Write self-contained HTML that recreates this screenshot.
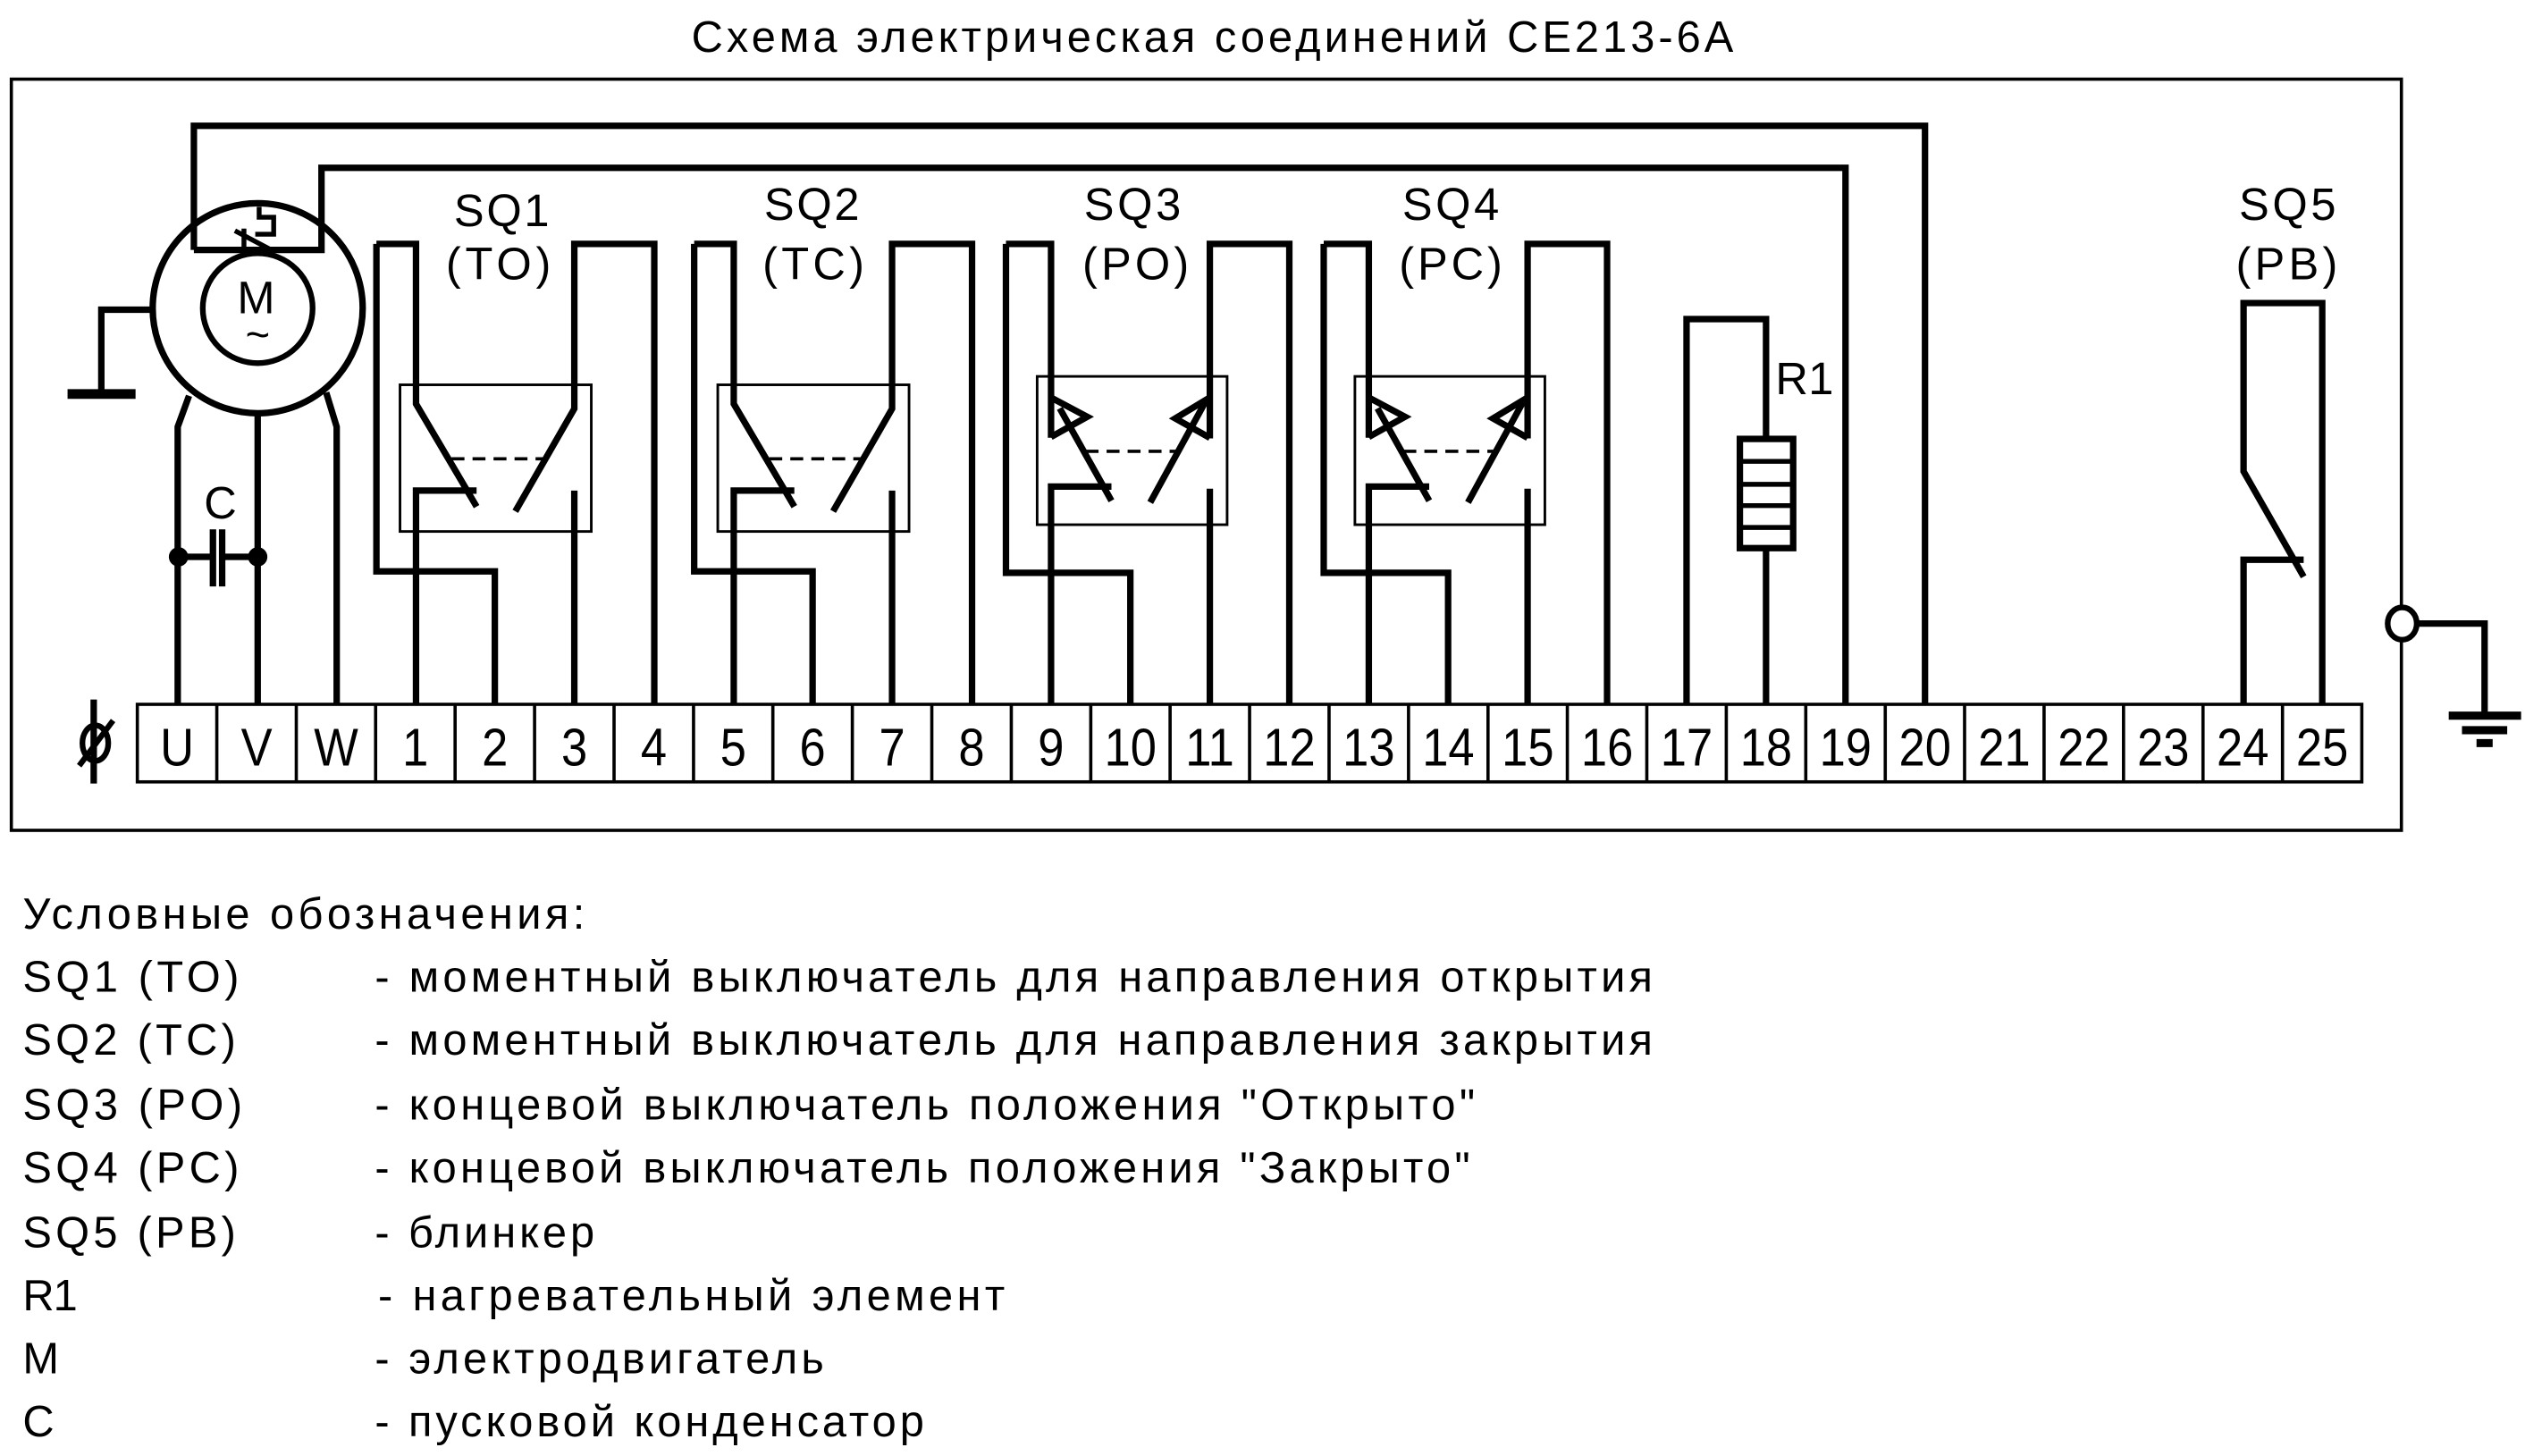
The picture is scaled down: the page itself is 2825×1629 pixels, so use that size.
<!DOCTYPE html>
<html><head><meta charset="utf-8"><style>
html,body{margin:0;padding:0;background:#fff;}
svg{display:block;}
text{font-family:"Liberation Sans",Arial,sans-serif;fill:#000;}
</style></head><body>
<svg width="2825" height="1629" viewBox="0 0 1563 901.3" xmlns="http://www.w3.org/2000/svg">
<rect width="1563" height="901.3" fill="#fff"/>
<text x="428" y="32" font-size="27" textLength="645" lengthAdjust="spacing">Схема электрическая соединений СЕ213-6А</text>
<rect x="7" y="49" width="1479.5" height="465" fill="none" stroke="#000" stroke-width="2"/>
<g fill="none" stroke="#000" stroke-width="4" stroke-linejoin="miter" stroke-linecap="butt">
<path d="M120,154.7 V77.9 H1191.6 V436"/>
<path d="M120,154.7 H199 V103.9 H1142.4 V436"/>
<circle cx="159.5" cy="190.8" r="65"/>
<circle cx="159.5" cy="190.8" r="34" stroke-width="3.5"/>
<path d="M160.4,128 V134.5 H169.4 V145 H158" stroke-width="3"/>
<path d="M151,141.5 V154.7 M145.4,142.8 L169.4,155.5" stroke-width="3"/>
<path d="M94.5,191.7 H62.7 V243.9"/>
<path d="M41.8,243.9 H83.9" stroke-width="6"/>
<path d="M117,245 L110,264.2 V436"/>
<path d="M159.5,256 V436"/>
<path d="M201.9,243 L208.4,264.2 V436"/>
<path d="M110,344.7 H131.8 M137.5,344.7 H159.5"/>
<path d="M131.8,327.7 V363 M137.5,327.7 V363"/>
</g>
<circle cx="110.5" cy="344.7" r="6" fill="#000"/>
<circle cx="159.5" cy="344.7" r="6" fill="#000"/>
<text x="158.5" y="194" font-size="28" text-anchor="middle">M</text>
<text x="159.5" y="216" font-size="26" text-anchor="middle">~</text>
<text x="136.4" y="321" font-size="28" text-anchor="middle">C</text>

<defs>
<g id="sqT">
<g fill="none" stroke="#000" stroke-width="4">
<path d="M233,151 V353.7 H306.3 V436"/>
<path d="M233,151 H257.5 V250 L295,313.6"/>
<path d="M257.5,436 V303.7 H295"/>
<path d="M355.5,436 V303.7"/>
<path d="M405,436 V151 H355.5 V253 L319,316.5"/>
</g>
<rect x="247.6" y="238.2" width="118.4" height="90.8" fill="none" stroke="#000" stroke-width="1.6"/>
<path d="M279.5,284 H336" stroke="#000" stroke-width="2" stroke-dasharray="8,5"/>
</g>
<g id="sqP">
<g fill="none" stroke="#000" stroke-width="4">
<path d="M622.7,151 V354.6 H699.7 V436"/>
<path d="M622.7,151 H650.6 V271"/>
<path d="M651.5,246.6 L673,258 L650.6,270.5"/>
<path d="M688,310 L656,252.8"/>
<path d="M650.6,436 V301.2 H688"/>
<path d="M798.1,436 V151 H748.9 V271.4"/>
<path d="M748,246.6 L727.5,259 L748.9,271"/>
<path d="M712,311 L746,249"/>
<path d="M748.9,436 V302.5"/>
</g>
<rect x="642" y="233" width="117.6" height="91.8" fill="none" stroke="#000" stroke-width="1.6"/>
<path d="M672,279.4 H729" stroke="#000" stroke-width="2" stroke-dasharray="8,5"/>
</g>
</defs>
<use href="#sqT"/>
<use href="#sqT" transform="translate(196.7,0)"/>
<use href="#sqP"/>
<use href="#sqP" transform="translate(196.7,0)"/>
<g font-size="28" text-anchor="start">
<text x="281" y="140" textLength="59" lengthAdjust="spacing">SQ1</text>
<text x="276" y="173" textLength="65" lengthAdjust="spacing">(TO)</text>
<text x="473" y="136" textLength="59" lengthAdjust="spacing">SQ2</text>
<text x="472" y="173" textLength="63" lengthAdjust="spacing">(TC)</text>
<text x="671" y="136" textLength="60" lengthAdjust="spacing">SQ3</text>
<text x="670" y="173" textLength="66" lengthAdjust="spacing">(PO)</text>
<text x="868" y="136" textLength="60" lengthAdjust="spacing">SQ4</text>
<text x="866" y="173" textLength="64" lengthAdjust="spacing">(PC)</text>
<text x="1386" y="136" textLength="60" lengthAdjust="spacing">SQ5</text>
<text x="1384" y="173" textLength="63" lengthAdjust="spacing">(PB)</text>
<text x="1099" y="244" textLength="36" lengthAdjust="spacing">R1</text>
</g>

<g fill="none" stroke="#000" stroke-width="4">
<path d="M1044,436 V197.5 H1093.2 V271.7"/>
<path d="M1093.2,339.3 V436"/>
<rect x="1077" y="271.7" width="33" height="67.6"/>
<path d="M1077,285.6 H1110 M1077,299.8 H1110 M1077,313 H1110 M1077,326.5 H1110" stroke-width="3"/>
<path d="M1437.5,436 V187.6 H1388.8 V291.8 L1426,357"/>
<path d="M1388.8,436 V346.5 H1426"/>
<path d="M1496,386 H1538 V441"/>
<path d="M1515.8,443 H1560.6" stroke-width="5"/>
<path d="M1524,452 H1552" stroke-width="5"/>
<path d="M1533,460 H1543" stroke-width="5"/>
</g>
<ellipse cx="1487" cy="386" rx="9" ry="10" fill="#fff" stroke="#000" stroke-width="3.5"/>

<g fill="none" stroke="#000" stroke-width="2">
<rect x="85" y="436" width="1377" height="48"/>
<path d="M134.2,436V484 M183.4,436V484 M232.5,436V484 M281.7,436V484 M330.9,436V484 M380.1,436V484 M429.3,436V484 M478.4,436V484 M527.6,436V484 M576.8,436V484 M626,436V484 M675.2,436V484 M724.3,436V484 M773.5,436V484 M822.7,436V484 M871.9,436V484 M921.1,436V484 M970.2,436V484 M1019.4,436V484 M1068.6,436V484 M1117.8,436V484 M1167,436V484 M1216.1,436V484 M1265.3,436V484 M1314.5,436V484 M1363.7,436V484 M1412.9,436V484"/>
</g>
<g font-size="33" text-anchor="middle" transform="scale(0.88,1)">
<text x="124.5" y="474">U</text><text x="180.5" y="474">V</text><text x="236.4" y="474">W</text>
<text x="292.2" y="474">1</text><text x="348.1" y="474">2</text><text x="404" y="474">3</text><text x="459.9" y="474">4</text>
<text x="515.8" y="474">5</text><text x="571.6" y="474">6</text><text x="627.5" y="474">7</text><text x="683.4" y="474">8</text>
<text x="739.3" y="474">9</text><text x="795.2" y="474">10</text><text x="851" y="474">11</text><text x="906.9" y="474">12</text>
<text x="962.8" y="474">13</text><text x="1018.8" y="474">14</text><text x="1074.7" y="474">15</text><text x="1130.5" y="474">16</text>
<text x="1186.4" y="474">17</text><text x="1242.3" y="474">18</text><text x="1298.2" y="474">19</text><text x="1354.1" y="474">20</text>
<text x="1409.9" y="474">21</text><text x="1465.8" y="474">22</text><text x="1521.7" y="474">23</text><text x="1577.6" y="474">24</text>
<text x="1633.5" y="474">25</text>
</g>
<g fill="none" stroke="#000" stroke-width="4">
<path d="M58,433 V485"/>
<ellipse cx="59" cy="460" rx="8" ry="11" stroke-width="3.5"/>
<path d="M49,474 L70,446" stroke-width="3.5"/>
</g>

<g font-size="27">
<text x="14" y="575" textLength="348" lengthAdjust="spacing">Условные обозначения:</text>
<text x="14" y="614" textLength="134" lengthAdjust="spacing">SQ1 (TO)</text>
<text x="14" y="653" textLength="132" lengthAdjust="spacing">SQ2 (TC)</text>
<text x="14" y="693" textLength="136" lengthAdjust="spacing">SQ3 (PO)</text>
<text x="14" y="732" textLength="134" lengthAdjust="spacing">SQ4 (PC)</text>
<text x="14" y="772" textLength="132" lengthAdjust="spacing">SQ5 (PB)</text>
<text x="14" y="811" textLength="34" lengthAdjust="spacing">R1</text>
<text x="14" y="850">M</text>
<text x="14" y="889">C</text>
<text x="232" y="614" textLength="791" lengthAdjust="spacing">- моментный выключатель для направления открытия</text>
<text x="232" y="653" textLength="791" lengthAdjust="spacing">- моментный выключатель для направления закрытия</text>
<text x="232" y="693" textLength="681" lengthAdjust="spacing">- концевой выключатель положения "Открыто"</text>
<text x="232" y="732" textLength="678" lengthAdjust="spacing">- концевой выключатель положения "Закрыто"</text>
<text x="232" y="772" textLength="136" lengthAdjust="spacing">- блинкер</text>
<text x="234" y="811" textLength="388" lengthAdjust="spacing">- нагревательный элемент</text>
<text x="232" y="850" textLength="278" lengthAdjust="spacing">- электродвигатель</text>
<text x="232" y="889" textLength="340" lengthAdjust="spacing">- пусковой конденсатор</text>
</g>
</svg>
</body></html>
